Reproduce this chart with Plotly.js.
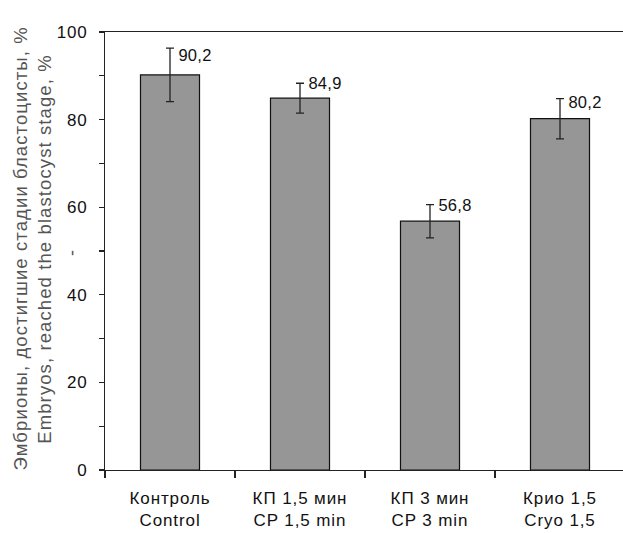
<!DOCTYPE html>
<html>
<head>
<meta charset="utf-8">
<script src="https://cdn.plot.ly/plotly-3.0.1.min.js"></script>
<style>
  body { margin: 0; padding: 0; background: #fff; }
  #chart { width: 623px; height: 533px; }
  .ytick text { letter-spacing: 0.8px; }
  .xtick text { letter-spacing: 0.9px; }
  .annotation[data-index="0"] text, .annotation[data-index="1"] text { letter-spacing: 1.1px; }
  .annotation[data-index="3"] text, .annotation[data-index="4"] text,
  .annotation[data-index="5"] text, .annotation[data-index="6"] text { letter-spacing: 0.3px; }
</style>
</head>
<body>
<div id="chart"></div>
<script>
// ---- data ----
const categoriesRu = ["Контроль", "КП 1,5 мин", "КП 3 мин", "Крио 1,5"];
const categoriesEn = ["Control", "CP 1,5 min", "CP 3 min", "Cryo 1,5"];
const values = [90.2, 84.9, 56.8, 80.2];
const errors = [6.1, 3.4, 3.8, 4.6];
const valueLabels = ["90,2", "84,9", "56,8", "80,2"];
const yTitleRu = "Эмбрионы, достигшие стадии бластоцисты, %";
const yTitleEn = "Embryos, reached the blastocyst stage, %";

// ---- styling helpers ----
const labelNudge = [-7, 0, 0, -3];
const catLabels = categoriesRu.map((r, i) => r + "<br>" + categoriesEn[i]);
const font = "Liberation Sans, Arial, sans-serif";

const trace = {
  type: "bar",
  x: catLabels,
  y: values,
  width: 0.454,
  marker: { color: "#969696", line: { color: "#111", width: 1.2 } },
  error_y: { type: "data", array: errors, visible: true, color: "#222", thickness: 1.3, width: 4 },
  hoverinfo: "none"
};

const annotations = [
  { text: yTitleRu, xref: "paper", yref: "paper", x: -0.162, y: 0.505, textangle: -90,
    showarrow: false, xanchor: "center", yanchor: "middle", font: { family: font, size: 18.5, color: "#555" } },
  { text: yTitleEn, xref: "paper", yref: "paper", x: -0.116, y: 0.505, textangle: -90,
    showarrow: false, xanchor: "center", yanchor: "middle", font: { family: font, size: 18.5, color: "#555" } },
  { text: "-", xref: "paper", yref: "paper", x: -0.064, y: 0.495, textangle: -90,
    showarrow: false, xanchor: "center", yanchor: "middle", font: { family: font, size: 18, color: "#555" } }
];
values.forEach((v, i) => {
  annotations.push({
    text: valueLabels[i], xref: "x", yref: "y", x: catLabels[i], y: v + errors[i],
    xanchor: "left", yanchor: "middle", xshift: 7, yshift: labelNudge[i], showarrow: false,
    font: { family: font, size: 16.5, color: "#111" }
  });
});

const layout = {
  width: 623, height: 533,
  margin: { l: 105, r: 0, t: 32, b: 63, pad: 0 },
  paper_bgcolor: "#fff", plot_bgcolor: "#fff",
  showlegend: false,
  font: { family: font, size: 17, color: "#111" },
  xaxis: {
    type: "category",
    range: [-0.5, 3.4846],
    showline: true, linecolor: "#222", linewidth: 1.2, mirror: true,
    ticks: "outside", tickson: "boundaries", ticklen: 7, tickcolor: "#222", tickwidth: 1.2,
    showgrid: false, zeroline: false,
    tickfont: { family: font, size: 17, color: "#111" },
    ticklabelstandoff: 12
  },
  yaxis: {
    range: [0, 100], dtick: 20, tick0: 0,
    showline: true, linecolor: "#222", linewidth: 1.2,
    ticks: "outside", ticklen: 5, tickcolor: "#222", tickwidth: 1.2,
    minor: { dtick: 10, ticks: "outside", ticklen: 5, tickcolor: "#222", tickwidth: 1.2, showgrid: false },
    showgrid: false, zeroline: false,
    tickfont: { family: font, size: 17, color: "#111" },
    ticklabelstandoff: 8
  },
  annotations: annotations
};

Plotly.newPlot("chart", [trace], layout, { staticPlot: true, displayModeBar: false });
</script>
</body>
</html>
